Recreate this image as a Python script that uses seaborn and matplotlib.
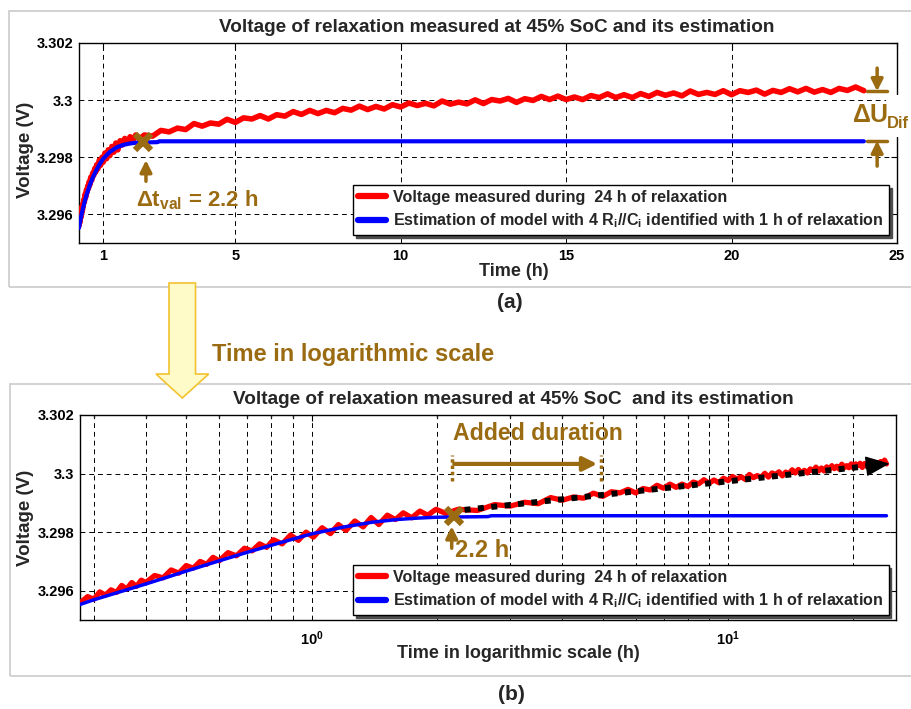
import numpy as np
import pandas as pd
import matplotlib
matplotlib.use("Agg")
import matplotlib.pyplot as plt
import seaborn as sns
from matplotlib.patches import Rectangle, Polygon
from matplotlib.ticker import FixedLocator, FixedFormatter, NullFormatter

# ---------------- data ----------------
time_meas = [0.28, 0.29, 0.30, 0.31, 0.32, 0.33, 0.34, 0.35, 0.36, 0.37, 0.38, 0.39, 0.40,
             0.42, 0.44, 0.46, 0.48, 0.50, 0.52, 0.54, 0.56, 0.58, 0.60,
             0.63, 0.66, 0.69, 0.72, 0.75, 0.78, 0.81, 0.85, 0.89, 0.93, 0.97,
             1.01, 1.06, 1.11, 1.16, 1.21, 1.27, 1.33, 1.39, 1.45, 1.52, 1.59, 1.66,
             1.74, 1.82, 1.90, 1.99, 2.10,
             2.25, 2.5, 2.75, 3.0, 3.25, 3.5, 3.75, 4.0, 4.25, 4.5,
             4.75, 5.0, 5.25, 5.5, 5.75, 6.0, 6.25, 6.5, 6.75, 7.0,
             7.25, 7.5, 7.75, 8.0, 8.25, 8.5, 8.75, 9.0, 9.25, 9.5,
             9.75, 10.0, 10.25, 10.5, 10.75, 11.0, 11.25, 11.5, 11.75, 12.0,
             12.25, 12.5, 12.75, 13.0, 13.25, 13.5, 13.75, 14.0, 14.25, 14.5,
             14.75, 15.0, 15.25, 15.5, 15.75, 16.0, 16.25, 16.5, 16.75, 17.0,
             17.25, 17.5, 17.75, 18.0, 18.25, 18.5, 18.75, 19.0, 19.25, 19.5,
             19.75, 20.0, 20.25, 20.5, 20.75, 21.0, 21.25, 21.5, 21.75, 22.0,
             22.25, 22.5, 22.75, 23.0, 23.25, 23.5, 23.75, 24.0]
volt_meas = [3.29562, 3.29580, 3.29571, 3.29596, 3.29585, 3.29603, 3.29594, 3.29618, 3.29606, 3.29628,
             3.29615, 3.29636, 3.29628, 3.29652, 3.29644, 3.29671, 3.29660, 3.29686, 3.29677, 3.29700,
             3.29690, 3.29714, 3.29702, 3.29730, 3.29719, 3.29745, 3.29736, 3.29760, 3.29748, 3.29774,
             3.29760, 3.29790, 3.29772, 3.29800, 3.29783, 3.29815, 3.29795, 3.29826, 3.29806, 3.29838,
             3.29818, 3.29850, 3.29826, 3.29858, 3.29843, 3.29866, 3.29849, 3.29872, 3.29858, 3.29878,
             3.29864,
             3.29878, 3.29874, 3.29894, 3.29889, 3.29902, 3.29897, 3.29918, 3.29909, 3.29920, 3.29916,
             3.29933, 3.29922, 3.29938, 3.29934, 3.29946, 3.29934, 3.29949, 3.29944, 3.29960, 3.29950,
             3.29964, 3.29953, 3.29964, 3.29956, 3.29971, 3.29965, 3.29979, 3.29967, 3.29978, 3.29969,
             3.29984, 3.29976, 3.29990, 3.29981, 3.29989, 3.29980, 3.29997, 3.29986, 3.29993, 3.29987,
             3.30001, 3.29988, 3.30002, 3.29997, 3.30006, 3.29992, 3.30005, 3.29999, 3.30013, 3.30002,
             3.30014, 3.30002, 3.30011, 3.30002, 3.30016, 3.30009, 3.30022, 3.30009, 3.30019, 3.30009,
             3.30023, 3.30013, 3.30027, 3.30017, 3.30025, 3.30015, 3.30032, 3.30020, 3.30027, 3.30020,
             3.30033, 3.30019, 3.30033, 3.30027, 3.30035, 3.30021, 3.30034, 3.30027, 3.30040, 3.30029,
             3.30041, 3.30028, 3.30037, 3.30027, 3.30041, 3.30034, 3.30046, 3.30033]

time_est = [0.278, 0.30, 0.35, 0.40, 0.45, 0.50, 0.60, 0.70, 0.80, 0.90, 1.00, 1.20, 1.40,
            1.60, 1.80, 2.00, 2.30, 2.65, 2.70, 24.0]
volt_est = [3.29553, 3.29569, 3.29598, 3.29623, 3.29646, 3.29667, 3.29702, 3.29731, 3.29755,
            3.29776, 3.29794, 3.29818, 3.29834, 3.29843, 3.29848, 3.29851, 3.29852, 3.29853,
            3.29856, 3.29856]

x_ticks_lin = [1, 5, 10, 15, 20, 25]
x_ticks_log = [1, 10]
x_tick_labels_log = [r"$10^{0}$", r"$10^{1}$"]
x_minor_log = [0.3, 0.4, 0.5, 0.6, 0.7, 0.8, 0.9, 2, 3, 4, 5, 6, 7, 8, 9, 20]
y_ticks = [3.296, 3.298, 3.3, 3.302]
y_tick_labels = ["3.296", "3.298", "3.3", "3.302"]

label_meas = "Voltage measured during  24 h of relaxation"
label_est = r"Estimation of model with 4 R$_\mathrm{i}$//C$_\mathrm{i}$ identified with 1 h of relaxation"
title_a = "Voltage of relaxation measured at 45% SoC and its estimation"
title_b = "Voltage of relaxation measured at 45% SoC  and its estimation"

t_val = 2.2
v_val = 3.29855

# ---------------- style ----------------
sns.set_theme(style="white")
plt.rcParams["font.family"] = ["Liberation Sans", "DejaVu Sans"]
plt.rcParams["font.weight"] = "bold"
plt.rcParams["axes.labelweight"] = "bold"
plt.rcParams["mathtext.fontset"] = "custom"
plt.rcParams["mathtext.rm"] = "Liberation Sans:bold"
plt.rcParams["mathtext.bf"] = "Liberation Sans:bold"
plt.rcParams["mathtext.it"] = "Liberation Sans:bold:italic"
plt.rcParams["mathtext.default"] = "rm"

BROWN = "#9b6b12"
W, H = 912, 709

df_meas = pd.DataFrame({"t": time_meas, "v": volt_meas})
df_est = pd.DataFrame({"t": time_est, "v": volt_est})

fig = plt.figure(figsize=(9.12, 7.09), dpi=100)
fig.patch.set_facecolor("white")


def fx(px):
    return px / W


def fy(py):
    return 1 - py / H


ax1 = fig.add_axes([fx(79), fy(243), fx(897) - fx(79), fy(43) - fy(243)])
ax2 = fig.add_axes([fx(80), fy(620), fx(896) - fx(80), fy(415) - fy(620)])

for ax, lw_r, lw_b in ((ax1, 4.0, 3.0), (ax2, 3.8, 2.5)):
    sns.lineplot(data=df_meas, x="t", y="v", ax=ax, color="#ff0000", lw=lw_r,
                 estimator=None, sort=False, label=label_meas, zorder=3)
    sns.lineplot(data=df_est, x="t", y="v", ax=ax, color="#0000ff", lw=lw_b,
                 estimator=None, sort=False, label=label_est, zorder=4)
    ax.set_ylim(3.295, 3.302)
    ax.set_yticks(y_ticks)
    ax.set_yticklabels(y_tick_labels)
    ax.set_axisbelow(True)
    ax.tick_params(direction="in", length=4, width=0.8, top=True, right=True,
                   labelsize=10.5, pad=4, colors="black")
    for s in ax.spines.values():
        s.set_color("black")
        s.set_linewidth(1.0)
    ax.set_xlabel("")
    ax.set_ylabel("Voltage (V)", fontsize=13.5, fontweight="bold", va="center")
    leg = ax.legend(loc="lower right", frameon=True, fancybox=False, edgecolor="black",
                    framealpha=1, shadow={"color": "0.3", "alpha": 1},
                    prop={"weight": "bold", "size": 11.6}, borderpad=0.3,
                    handlelength=1.75, handletextpad=0.45, labelspacing=0.4,
                    borderaxespad=0)
    leg.get_frame().set_linewidth(1.0)
    for ln in leg.get_lines():
        ln.set_linewidth(4.5)

# top axes: linear time
ax1.set_xlim(0.276, 25)
ax1.set_xticks(x_ticks_lin)
ax1.set_xticklabels([str(v) for v in x_ticks_lin])
ax1.grid(True, which="major", color="black", linestyle=(0, (5, 4)), lw=0.7)
ax1.get_legend().set_bbox_to_anchor((0.99, 0.04), transform=ax1.transAxes)
ax1.yaxis.set_label_coords(-0.066, 0.465)

# bottom axes: log time
ax2.set_xscale("log")
ax2.set_xlim(0.278, 25.3)
ax2.xaxis.set_major_locator(FixedLocator(x_ticks_log))
ax2.xaxis.set_major_formatter(FixedFormatter(x_tick_labels_log))
ax2.xaxis.set_minor_locator(FixedLocator(x_minor_log))
ax2.xaxis.set_minor_formatter(NullFormatter())
ax2.tick_params(which="minor", direction="in", length=2.5, top=True)
ax2.tick_params(axis="x", which="major", pad=7)
ax2.grid(True, which="both", color="black", linestyle=(0, (5, 4)), lw=0.7)
ax2.get_legend().set_bbox_to_anchor((0.991, 0.024), transform=ax2.transAxes)
ax2.yaxis.set_label_coords(-0.0674, 0.4976)

# axis labels
ax1.set_xlabel("Time (h)", fontsize=13, fontweight="bold", va="center")
ax1.xaxis.set_label_coords((514 - 79) / 818, -(271.7 - 243) / 200)
ax2.set_xlabel("Time in logarithmic scale (h)", fontsize=13, fontweight="bold", va="center")
ax2.xaxis.set_label_coords((518.5 - 80) / 816, -(653 - 620) / 205)

# ---------------- annotations panel (a) ----------------
arrow_kw = dict(arrowstyle="-|>,head_length=0.5,head_width=0.25", color=BROWN, lw=2.5,
                mutation_scale=14, shrinkA=0, shrinkB=0)
ax1.plot([t_val], [v_val], marker="x", ms=12, mew=4.5, color=BROWN, zorder=6)
ax1.annotate("", xy=(2.3, 3.29790), xytext=(2.3, 3.29716), arrowprops=arrow_kw, zorder=6)
ax1.text(2.0, 3.2965, r"$\Delta\mathrm{t}_{\mathrm{val}}$ = 2.2 h", color=BROWN,
         fontsize=16, fontweight="bold", va="center", ha="left", zorder=6)

# delta U markers
ax1.annotate("", xy=(24.4, 3.30031), xytext=(24.4, 3.30112),
             arrowprops=dict(arrow_kw), annotation_clip=False, zorder=6)
ax1.plot([24.1, 24.7], [3.30031, 3.30031], color=BROWN, lw=2.5, clip_on=False, zorder=6)
ax1.annotate("", xy=(24.4, 3.29858), xytext=(24.4, 3.29769),
             arrowprops=dict(arrow_kw), annotation_clip=False, zorder=6)
ax1.plot([24.1, 24.7], [3.29858, 3.29858], color=BROWN, lw=2.5, clip_on=False, zorder=6)
# white gap in the right spine behind the label
fig.add_artist(Rectangle((fx(886), fy(137)), fx(912) - fx(886), fy(95) - fy(137),
                         transform=fig.transFigure, facecolor="white", edgecolor="none",
                         zorder=9))
fig.text(fx(852), fy(115), r"$\Delta$U", color=BROWN, fontsize=18,
         ha="left", va="center", zorder=10)
fig.text(fx(887), fy(124), "Dif", color=BROWN, fontsize=12,
         ha="left", va="center", zorder=10)

# ---------------- annotations panel (b) ----------------
ax2.plot([2.33, 21.5], [3.29876, 3.30025], color="black", lw=4.3,
         linestyle=(0, (1, 1.25)), dash_capstyle="butt", zorder=7)
ax2.annotate("", xy=(24.4, 3.30034), xytext=(21.8, 3.30026),
             arrowprops=dict(arrowstyle="-|>,head_length=0.4,head_width=0.17",
                             color="black", lw=1, mutation_scale=38,
                             shrinkA=0, shrinkB=0), zorder=7)
ax2.plot([t_val], [v_val], marker="x", ms=12, mew=4.5, color=BROWN, zorder=8)
ax2.annotate("", xy=(2.17, 3.29820), xytext=(2.17, 3.29745), arrowprops=arrow_kw, zorder=8)
ax2.text(2.21, 3.29736, "2.2 h", color=BROWN, fontsize=17, fontweight="bold",
         va="center", ha="left", zorder=8)
ax2.text(2.185, 3.30137, "Added duration", color=BROWN, fontsize=16.6, fontweight="bold",
         va="center", ha="left", zorder=8)
for tx in (2.17, 4.94):
    ax2.plot([tx, tx], [3.29973, 3.30064], color=BROWN, lw=2.5, linestyle=(0, (1, 0.8)),
             dash_capstyle="butt", zorder=8)
ax2.annotate("", xy=(4.85, 3.30033), xytext=(2.2, 3.30033),
             arrowprops=dict(arrowstyle="-|>,head_length=0.6,head_width=0.3", color=BROWN,
                             lw=3, mutation_scale=14, shrinkA=0, shrinkB=0), zorder=8)

# ---------------- figure decorations ----------------
fig.add_artist(Rectangle((fx(9), fy(287)), 1.0, fy(11) - fy(287), transform=fig.transFigure,
                         fill=False, edgecolor="#cfcfcf", lw=1.3, zorder=1))
fig.add_artist(Rectangle((fx(10.5), fy(675.5)), 1.0, fy(383.5) - fy(675.5),
                         transform=fig.transFigure, fill=False, edgecolor="#cfcfcf", lw=1.3,
                         zorder=1))
arrow_px = [(169, 283), (195.5, 283), (195.5, 374), (208.7, 374), (182.3, 398),
            (156, 374), (169, 374)]
fig.add_artist(Polygon([(fx(a), fy(b)) for a, b in arrow_px], closed=True,
                       transform=fig.transFigure, facecolor="#fffbc8", edgecolor="#f2c230",
                       lw=1.2, zorder=2))

fig.text(fx(212), fy(354), "Time in logarithmic scale", color=BROWN, fontsize=17,
         fontweight="bold", ha="left", va="center")
fig.text(fx(496.5), fy(27), title_a, fontsize=13.7, fontweight="bold", ha="center", va="center")
fig.text(fx(513), fy(400), title_b, fontsize=13.7, fontweight="bold", ha="center", va="center")
fig.text(fx(510), fy(303), "(a)", fontsize=15, fontweight="bold", ha="center", va="center")
fig.text(fx(511), fy(695), "(b)", fontsize=15, fontweight="bold", ha="center", va="center")

fig.savefig("out.png", dpi=100)
